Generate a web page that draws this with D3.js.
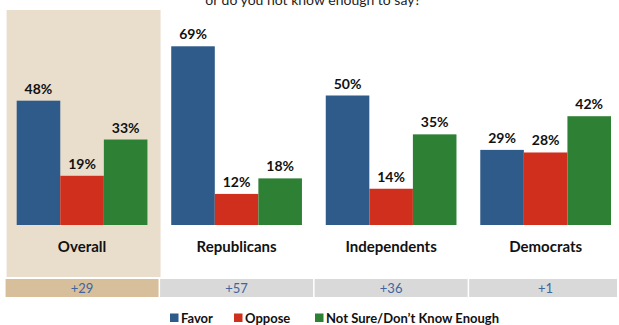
<!DOCTYPE html>
<html>
<head>
<meta charset="utf-8">
<script src="https://cdn.jsdelivr.net/npm/d3@7"></script>
<style>
  html, body { margin: 0; padding: 0; background: #fff; }
  svg { display: block; font-family: Lato, "Open Sans", sans-serif; }
</style>
</head>
<body>
<svg id="chart" width="619" height="325"></svg>
<script>
// Party groups and response shares (%)
const groups = ["Overall", "Republicans", "Independents", "Democrats"];
const seriesNames = ["Favor", "Oppose", "Not Sure/Don\u2019t Know Enough"];
const favor = [48, 69, 50, 29];
const oppose = [19, 12, 14, 28];
const notSure = [33, 18, 35, 42];
const netLabels = ["+29", "+57", "+36", "+1"];
const colors = ["#2f5b8b", "#d12f1d", "#2e8035"];

const svg = d3.select("#chart");
const values = [favor, oppose, notSure];

const x = d3.scaleBand().domain(groups).range([16.7, 611]).paddingInner(0.154).paddingOuter(0);
const xs = d3.scaleBand().domain(seriesNames).range([0, x.bandwidth()]).padding(0);
const y = d3.scaleLinear().domain([0, 100]).range([225, -34]);

const cellW = 153;
const cx = g => x(g) + x.bandwidth() / 2;

// highlighted "Overall" panel
svg.append("rect")
  .attr("x", cx("Overall") - cellW / 2 + 1)
  .attr("y", 10)
  .attr("width", 154)
  .attr("height", 267)
  .attr("fill", "#e9decc");

// partial question text at top
svg.append("text")
  .attr("x", 313).attr("y", 5)
  .attr("text-anchor", "middle")
  .attr("font-size", 14)
  .attr("fill", "#222")
  .text("or do you not know enough to say?");

// bars
const gGroups = svg.selectAll("g.grp").data(groups).join("g")
  .attr("class", "grp")
  .attr("transform", d => `translate(${x(d)},0)`);

gGroups.each(function (gName, gi) {
  const g = d3.select(this);
  seriesNames.forEach((s, si) => {
    const v = values[si][gi];
    g.append("rect")
      .attr("x", xs(s))
      .attr("y", y(v))
      .attr("width", xs.bandwidth())
      .attr("height", y(0) - y(v))
      .attr("fill", colors[si]);
    g.append("text")
      .attr("x", xs(s) + xs.bandwidth() / 2)
      .attr("y", y(v) - 7)
      .attr("text-anchor", "middle")
      .attr("font-size", 14)
      .attr("font-weight", "bold")
      .attr("fill", "#111")
      .text(v + "%");
  });
  g.append("text")
    .attr("x", x.bandwidth() / 2)
    .attr("y", 252)
    .attr("text-anchor", "middle")
    .attr("font-size", 15)
    .attr("font-weight", "bold")
    .attr("fill", "#111")
    .text(gName);
});

// net difference row
groups.forEach((gName, i) => {
  const left = cx(gName) - cellW / 2;
  const right = Math.min(left + cellW, 617);
  svg.append("rect")
    .attr("x", left).attr("y", 279)
    .attr("width", right - left).attr("height", 18)
    .attr("fill", i === 0 ? "#d8bf9b" : "#d9d9d9");
  svg.append("text")
    .attr("x", cx(gName)).attr("y", 292.5)
    .attr("text-anchor", "middle")
    .attr("font-size", 13)
    .attr("fill", "#40659e")
    .text(netLabels[i]);
});

// legend
const legendX = [170, 234, 315];
seriesNames.forEach((s, i) => {
  svg.append("rect")
    .attr("x", legendX[i]).attr("y", 313.5)
    .attr("width", 8.5).attr("height", 8.5)
    .attr("fill", colors[i]);
  svg.append("text")
    .attr("x", legendX[i] + 11).attr("y", 322.5)
    .attr("font-size", 13)
    .attr("font-weight", "bold")
    .attr("fill", "#111")
    .text(s);
});
</script>
</body>
</html>
